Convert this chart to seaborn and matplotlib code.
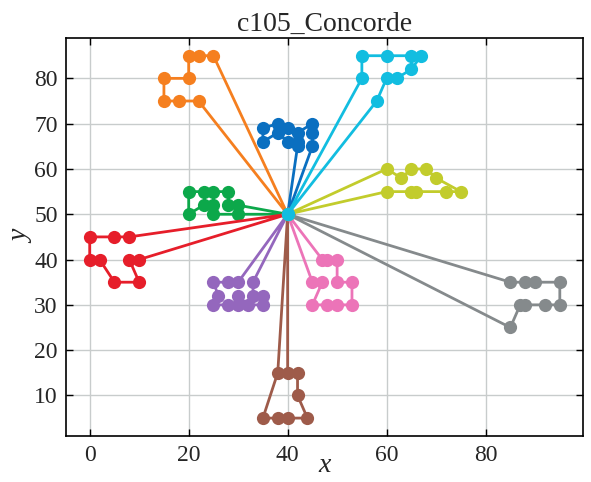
import matplotlib
matplotlib.use("Agg")
import matplotlib.pyplot as plt
import seaborn as sns
import pandas as pd

sns.set_theme(style="whitegrid")
plt.rcParams['font.family'] = ['Liberation Serif', 'DejaVu Serif']

# customer coordinates (id: x, y), depot is 0
node_x = [40, 45, 45, 42, 42, 42, 40, 40, 38, 38, 35, 35, 25, 22, 22, 20, 20, 18, 15, 15,
          30, 30, 28, 28, 25, 25, 25, 23, 23, 20, 20, 10, 10, 8, 8, 5, 5, 2, 0, 0,
          35, 35, 33, 33, 32, 30, 30, 30, 28, 28, 26, 25, 25, 44, 42, 42, 40, 40, 38, 38,
          35, 50, 50, 50, 48, 48, 47, 47, 45, 45, 95, 95, 53, 92, 53, 45, 90, 88, 88, 87,
          85, 85, 75, 72, 70, 68, 66, 65, 65, 63, 60, 60, 67, 65, 65, 62, 60, 60, 58, 55, 55]
node_y = [50, 68, 70, 66, 68, 65, 69, 66, 68, 70, 66, 69, 85, 75, 85, 80, 85, 75, 75, 80,
          50, 52, 52, 55, 50, 52, 55, 52, 55, 50, 55, 35, 40, 40, 45, 35, 45, 40, 40, 45,
          30, 32, 32, 35, 30, 30, 32, 35, 30, 35, 32, 30, 35, 5, 10, 15, 5, 15, 5, 15,
          5, 30, 35, 40, 30, 40, 35, 40, 30, 35, 30, 35, 30, 30, 35, 65, 35, 30, 35, 30,
          25, 35, 55, 55, 58, 60, 55, 55, 60, 58, 55, 60, 85, 85, 82, 80, 80, 85, 75, 80, 85]

routes = [
    [0, 5, 3, 7, 8, 10, 11, 9, 6, 4, 2, 1, 75, 0],
    [0, 13, 17, 18, 19, 15, 16, 14, 12, 0],
    [0, 20, 24, 25, 27, 29, 30, 28, 26, 23, 22, 21, 0],
    [0, 32, 33, 31, 35, 37, 38, 39, 36, 34, 0],
    [0, 43, 42, 41, 40, 44, 46, 45, 48, 51, 50, 52, 49, 47, 0],
    [0, 57, 55, 54, 53, 56, 58, 60, 59, 0],
    [0, 67, 65, 63, 62, 74, 72, 61, 64, 68, 66, 69, 0],
    [0, 81, 78, 76, 71, 70, 73, 77, 79, 80, 0],
    [0, 90, 87, 86, 83, 82, 84, 85, 88, 89, 91, 0],
    [0, 98, 96, 95, 94, 92, 93, 97, 100, 99, 0],
]

rows = []
for r, route in enumerate(routes):
    for k, n in enumerate(route):
        rows.append({"route": r, "order": k, "x": node_x[n], "y": node_y[n]})
df = pd.DataFrame(rows)

colors = ["#0a6fc0", "#f57f1f", "#0ca84a", "#e61e2a", "#9467bd",
          "#9e5b4a", "#ec74b8", "#858a8c", "#c2cc2c", "#12bde0"]
fig, ax = plt.subplots(figsize=(5.91, 4.82), dpi=100)
for r in range(len(routes)):
    d = df[df.route == r]
    sns.lineplot(data=d, x="x", y="y", sort=False, estimator=None, color=colors[r],
                 lw=2, marker="o", markersize=9.5, markeredgewidth=0, ax=ax, legend=False)

ax.set_title("c105_Concorde", fontsize=20, pad=5)
ax.set_xlabel("x", fontsize=20, style="italic", labelpad=-9)
ax.set_ylabel("y", fontsize=20, style="italic", labelpad=0)
ax.set_xticks([0, 20, 40, 60, 80])
ax.set_yticks([10, 20, 30, 40, 50, 60, 70, 80])
ax.tick_params(labelsize=17, direction="in", length=5, width=1, color="black",
               top=True, right=True, bottom=True, left=True, pad=6)
ax.grid(True, color="#c8cccc", lw=1)
for s in ax.spines.values():
    s.set_color("black")
    s.set_linewidth(1.2)
ax.set_xlim(-4.75, 99.75)
ax.set_ylim(1, 89)
fig.subplots_adjust(left=0.112, right=0.987, top=0.922, bottom=0.095)
fig.savefig("out.png", dpi=100)
